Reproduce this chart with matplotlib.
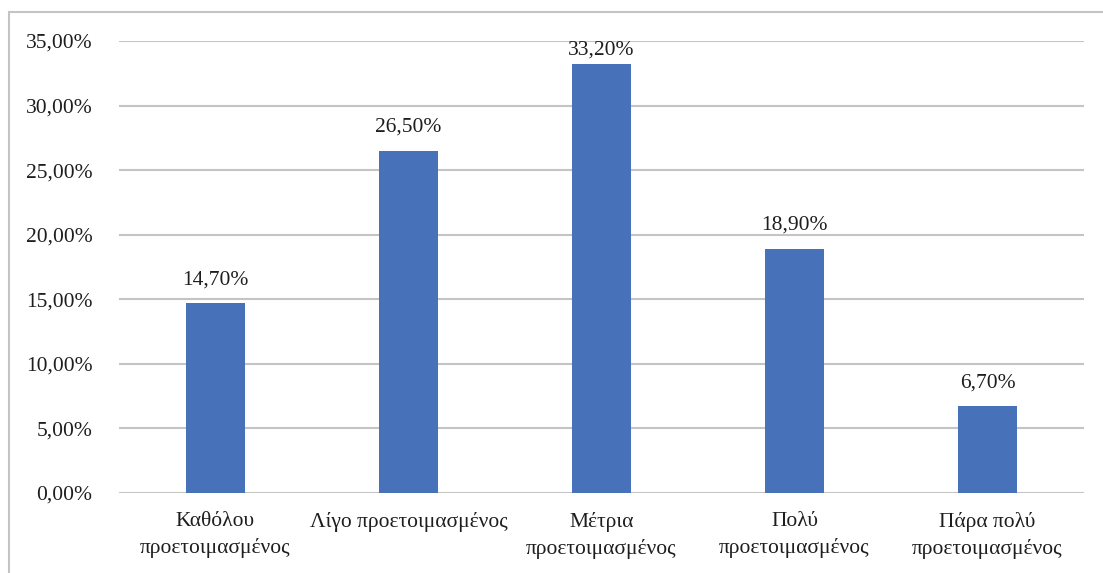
import matplotlib
matplotlib.use("Agg")
import matplotlib.pyplot as plt
from matplotlib.patches import Rectangle
from matplotlib.ticker import FuncFormatter

categories = ["Καθόλου\nπροετοιμασμένος", "Λίγο προετοιμασμένος", "Μέτρια\nπροετοιμασμένος",
              "Πολύ\nπροετοιμασμένος", "Πάρα πολύ\nπροετοιμασμένος"]
values = [14.70, 26.50, 33.20, 18.90, 6.70]
yticks = [0, 5, 10, 15, 20, 25, 30, 35]

plt.rcParams['font.family'] = ['Liberation Serif', 'DejaVu Serif']

W, H = 1103, 573
FS = 15.5
TXT = '#1e1e1e'
YMAX = 35
fig = plt.figure(figsize=(W/100, H/100), dpi=100)
ax = fig.add_axes([119/W, 1-493/H, (1084-119)/W, (493-41)/H])

x = list(range(len(categories)))
bars = ax.bar(x, values, width=0.31, color='#4771B9', zorder=3)
for xi, v in zip(x, values):
    lbl = f"{v:.2f}%".replace('.', ',')
    if v > YMAX - 2.8:
        # label pushed down to stay inside the plot area
        ax.annotate(lbl, (xi, YMAX), xytext=(0, 0), textcoords='offset points',
                    ha='center', va='top', fontsize=FS, color=TXT)
    else:
        ax.annotate(lbl, (xi, v), xytext=(0, 10), textcoords='offset points',
                    ha='center', va='bottom', fontsize=FS, color=TXT)

ax.set_xlim(-0.5, len(categories) - 0.5)
ax.set_ylim(0, YMAX)
ax.set_yticks(yticks)
ax.yaxis.set_major_formatter(FuncFormatter(lambda v, p: f"{v:.2f}%".replace('.', ',')))
ax.set_xticks(x)
ax.set_xticklabels(categories, fontsize=FS, color=TXT, linespacing=1.45)
ax.tick_params(axis='y', length=0, pad=19, labelsize=FS, labelcolor=TXT)
ax.tick_params(axis='x', length=0, pad=14)
ax.grid(axis='y', color='#c4c4c4', linewidth=1.5, zorder=0)
for s in ax.spines.values():
    s.set_visible(False)

fig.patches.append(Rectangle((9/W, -0.1), 1.2, 1 - 12/H + 0.1, transform=fig.transFigure,
                             fill=False, edgecolor='#c4c4c4', linewidth=1.5))

fig.savefig("out.png", dpi=100)
